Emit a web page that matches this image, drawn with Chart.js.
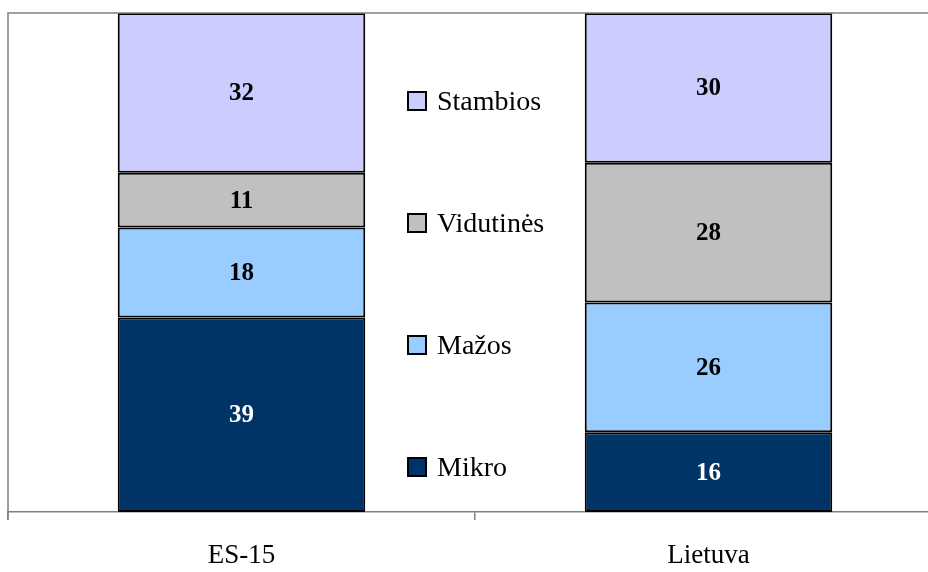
<!DOCTYPE html>
<html lang="lt">
<head>
  <meta charset="UTF-8">
  <title>ES-15 ir Lietuva</title>
  <style>
    html, body { margin: 0; padding: 0; background: #fff; overflow: hidden; }
    #wrap { width: 960px; height: 572px; }
  </style>
</head>
<body>
  <div id="wrap"><canvas id="chart" width="960" height="572"></canvas></div>

  <script src="https://cdn.jsdelivr.net/npm/chart.js"></script>
  <script>
    // Duomenys
    var categories = ['ES-15', 'Lietuva'];
    var mikro = [39, 16];
    var mazos = [18, 26];
    var vidutines = [11, 28];
    var stambios = [32, 30];

    var serif = '"Liberation Serif", "Times New Roman", serif';

    // plot frame: left line + top line
    var framePlugin = {
      id: 'frame',
      afterDraw: function(chart) {
        var a = chart.chartArea, ctx = chart.ctx;
        ctx.save();
        ctx.strokeStyle = '#808080';
        ctx.lineWidth = 1.5;
        ctx.beginPath();
        ctx.moveTo(a.left, a.bottom + 8);
        ctx.lineTo(a.left, a.top);
        ctx.lineTo(a.right, a.top);
        ctx.stroke();
        ctx.restore();
      }
    };

    // value labels in the middle of each segment
    var valuePlugin = {
      id: 'values',
      afterDatasetsDraw: function(chart) {
        var ctx = chart.ctx;
        ctx.save();
        ctx.font = 'bold 25px ' + serif;
        ctx.textAlign = 'center';
        ctx.textBaseline = 'middle';
        chart.data.datasets.forEach(function(ds, i) {
          chart.getDatasetMeta(i).data.forEach(function(bar, j) {
            var p = bar.getProps(['x', 'y', 'base'], true);
            ctx.fillStyle = ds.labelColor;
            ctx.fillText(ds.data[j], p.x, (p.y + p.base) / 2 + 1);
          });
        });
        ctx.restore();
      }
    };

    // legend placed between the two bars, top item = last dataset
    var legendPlugin = {
      id: 'midLegend',
      afterDraw: function(chart) {
        var ctx = chart.ctx, a = chart.chartArea;
        var x = 408, y0 = a.top + 88, step = 122;
        ctx.save();
        ctx.font = '28px ' + serif;
        ctx.textBaseline = 'middle';
        var ds = chart.data.datasets.slice().reverse();
        ds.forEach(function(d, i) {
          var y = y0 + i * step;
          ctx.fillStyle = d.backgroundColor;
          ctx.fillRect(x, y - 9, 18, 18);
          ctx.strokeStyle = '#000';
          ctx.lineWidth = 2;
          ctx.strokeRect(x, y - 9, 18, 18);
          ctx.fillStyle = '#000';
          ctx.fillText(d.label, x + 29, y + 2);
        });
        ctx.restore();
      }
    };

    function mkSet(label, data, color, labelColor) {
      return {
        label: label,
        data: data,
        backgroundColor: color,
        borderColor: '#000',
        borderWidth: 2,
        borderSkipped: false,
        labelColor: labelColor,
        barPercentage: 0.53,
        categoryPercentage: 1
      };
    }

    new Chart(document.getElementById('chart'), {
      type: 'bar',
      data: {
        labels: categories,
        datasets: [
          mkSet('Mikro', mikro, '#003366', '#ffffff'),
          mkSet('Mažos', mazos, '#99CCFF', '#000000'),
          mkSet('Vidutinės', vidutines, '#C0C0C0', '#000000'),
          mkSet('Stambios', stambios, '#CCCCFF', '#000000')
        ]
      },
      options: {
        responsive: false,
        animation: false,
        layout: { padding: { left: 8, top: 13, right: 18, bottom: 0 } },
        plugins: { legend: { display: false }, tooltip: { enabled: false } },
        scales: {
          x: {
            stacked: true,
            offset: true,
            afterFit: function(scale) { scale.height = 60; },
            grid: {
              offset: true,
              drawOnChartArea: false,
              tickLength: 8,
              color: '#808080',
              lineWidth: 1.5
            },
            border: { color: '#808080', width: 1.5 },
            ticks: {
              color: '#000',
              padding: 20,
              font: { family: serif, size: 27 }
            }
          },
          y: {
            stacked: true,
            display: false,
            min: 0,
            max: 100
          }
        }
      },
      plugins: [framePlugin, valuePlugin, legendPlugin]
    });
  </script>
</body>
</html>
